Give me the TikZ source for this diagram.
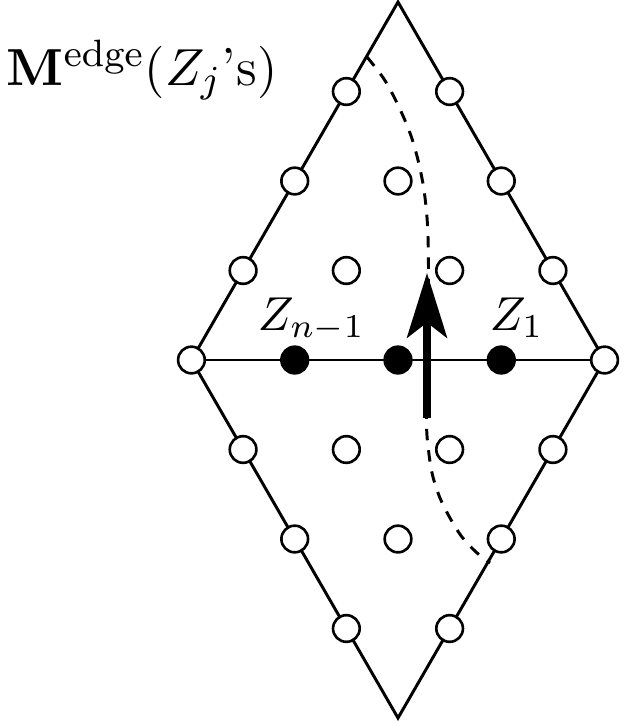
\documentclass[tikz,border=0pt]{standalone}
\usetikzlibrary{arrows.meta}
\begin{document}
\begin{tikzpicture}[x=0.21pt,y=-0.21pt,
  edgeline/.style={line width=0.62pt, line join=miter},
  opendot/.style={circle, draw, fill=white, line width=0.55pt, minimum size=5.6pt, inner sep=0pt},
  fulldot/.style={circle, draw, fill=black, line width=0.55pt, minimum size=5.6pt, inner sep=0pt},
  dashcurve/.style={line width=0.62pt, dash pattern=on 2.4pt off 2.1pt},
  bigarrow/.style={line width=1.5pt, -{Stealth[length=13.6pt,width=8.4pt,inset=3.2pt]}},
  lbl/.style={inner sep=0pt, anchor=base west}]
\useasboundingbox (0,0) rectangle (623,722);
\begin{scope}[shift={(398,360)}, x=21.69pt, y=18.795pt]
  \coordinate (T) at (0,4);
  \coordinate (L) at (-2,0);
  \coordinate (B) at (0,-4);
  \coordinate (R) at (2,0);
  \draw[edgeline] (T) -- (L) -- (B) -- (R) -- cycle;
  \draw[edgeline] (L) -- (R);
\end{scope}
% dashed curve
\draw[dashcurve] plot[smooth, tension=0.55] coordinates {(367,57) (384,79) (398,105) (410,133) (418,160) (424,190) (427.5,225) (428.5,270) (428,340) (426.5,420) (428.5,450) (432.5,475) (440,498) (450,518) (462,537) (476,552) (490,563)};
\begin{scope}[shift={(398,360)}, x=21.69pt, y=18.795pt]
  % edge circles
  \node[opendot] (e1) at (-2,0) {};
  \node[opendot] (e2) at (2,0) {};
  \node[opendot] (e3) at (-1.5,1) {};
  \node[opendot] (e4) at (-1,2) {};
  \node[opendot] (e5) at (-0.5,3) {};
  \node[opendot] (e6) at (1.5,1) {};
  \node[opendot] (e7) at (1,2) {};
  \node[opendot] (e8) at (0.5,3) {};
  \node[opendot] (e9) at (-1.5,-1) {};
  \node[opendot] (e10) at (-1,-2) {};
  \node[opendot] (e11) at (-0.5,-3) {};
  \node[opendot] (e12) at (1.5,-1) {};
  \node[opendot] (e13) at (1,-2) {};
  \node[opendot] (e14) at (0.5,-3) {};
  % interior open circles
  \node[opendot] (i1) at (0,2) {};
  \node[opendot] (i2) at (-0.5,1) {};
  \node[opendot] (i3) at (0.5,1) {};
  \node[opendot] (i4) at (-0.5,-1) {};
  \node[opendot] (i5) at (0.5,-1) {};
  \node[opendot] (i6) at (0,-2) {};
  % filled
  \node[fulldot] (f1) at (-1,0) {};
  \node[fulldot] (f0) at (0,0) {};
  \node[fulldot] (f2) at (1,0) {};
\end{scope}
% arrow
\coordinate (arrS) at (427,418);
\coordinate (arrE) at (427,273);
\draw[bigarrow] (arrS) -- (arrE);
% labels
\node[lbl] (lz) at (257,330) {$Z_{n-1}$};
\node[lbl] (lo) at (489,330) {$Z_1$};
\node[lbl, font=\fontsize{11.25}{13}\selectfont] (title) at (6,85) {$\mathbf{M}^{\mathrm{edge}}(Z_j$'s$)$};
\end{tikzpicture}
\end{document}
